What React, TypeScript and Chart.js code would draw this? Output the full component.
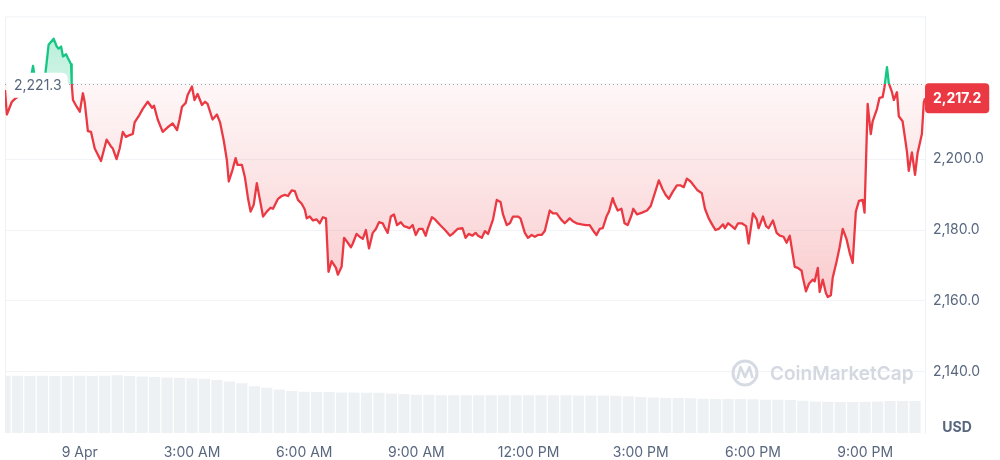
import React, { useEffect, useRef } from 'react';
import { Chart, registerables } from 'chart.js';

Chart.register(...registerables);

// ---- data ----
const xTickMinutes = [0, 180, 360, 540, 720, 900, 1080, 1260];
const xTickLabels = ['9 Apr', '3:00 AM', '6:00 AM', '9:00 AM', '12:00 PM', '3:00 PM', '6:00 PM', '9:00 PM'];
const yTickValues = [2140, 2160, 2180, 2200];
const openPrice = 2221.3;
const lastPrice = 2217.2;
const currencyLabel = 'USD';
const watermarkText = 'CoinMarketCap';

// minutes relative to 00:00 on 9 Apr
const priceMinutes = [
  -120, -117, -109, -104, -96, -87, -80, -75, -71, -63,
  -56, -55, -50, -42, -37, -34, -30, -27, -22, -19,
  -14, -13, -11, -5, 0, 5, 8, 13, 18, 24,
  34, 43, 50, 53, 59, 64, 69, 74, 80, 85,
  88, 96, 101, 109, 116, 119, 125, 133, 141, 149,
  156, 160, 164, 170, 173, 180, 184, 189, 196, 201,
  205, 213, 220, 225, 231, 236, 239, 245, 250, 253,
  260, 265, 270, 274, 279, 284, 289, 294, 300, 306,
  310, 318, 324, 329, 334, 340, 345, 350, 356, 361,
  364, 369, 374, 380, 385, 390, 395, 399, 404, 411,
  414, 420, 424, 430, 435, 438, 444, 449, 454, 459,
  464, 470, 475, 480, 486, 489, 494, 499, 504, 509,
  515, 520, 525, 529, 534, 539, 544, 550, 555, 558,
  565, 570, 578, 586, 594, 598, 606, 614, 619, 624,
  630, 635, 639, 645, 650, 655, 663, 669, 675, 679,
  685, 690, 695, 703, 707, 714, 719, 725, 730, 735,
  741, 746, 754, 759, 765, 772, 778, 786, 791, 797,
  805, 812, 818, 825, 829, 834, 839, 845, 849, 855,
  858, 863, 869, 874, 879, 885, 888, 894, 902, 910,
  916, 922, 929, 935, 940, 945, 951, 958, 964, 969,
  974, 980, 987, 991, 998, 1003, 1009, 1016, 1020, 1025,
  1032, 1035, 1040, 1046, 1051, 1056, 1062, 1069, 1073, 1080,
  1086, 1089, 1096, 1101, 1105, 1112, 1118, 1123, 1129, 1134,
  1139, 1144, 1147, 1152, 1158, 1160, 1165, 1170, 1176, 1179,
  1184, 1187, 1192, 1197, 1200, 1205, 1208, 1214, 1219, 1224,
  1230, 1235, 1240, 1245, 1250, 1256, 1259, 1264, 1269, 1272,
  1279, 1283, 1288, 1291, 1295, 1298, 1303, 1306, 1311, 1314,
  1320, 1323, 1327, 1330, 1335, 1340, 1344, 1351, 1354, 1356,
];

const prices = [
  2219.5, 2212.6, 2216.2, 2217.0, 2218.1, 2219.2, 2221.6, 2226.3, 2221.4, 2220.0,
  2222.7, 2224.4, 2232.3, 2234.0, 2231.8, 2231.2, 2231.8, 2229.0, 2229.6, 2228.5,
  2226.8, 2221.4, 2216.7, 2214.8, 2213.4, 2218.6, 2215.9, 2207.9, 2207.7, 2203.0,
  2199.5, 2205.5, 2203.6, 2203.0, 2200.0, 2203.0, 2207.7, 2206.3, 2206.8, 2207.1,
  2210.4, 2212.6, 2214.2, 2216.2, 2214.5, 2215.1, 2211.2, 2207.7, 2209.0, 2210.1,
  2208.2, 2211.2, 2214.8, 2215.9, 2218.1, 2220.5, 2216.7, 2218.4, 2215.3, 2216.2,
  2215.6, 2211.2, 2212.6, 2210.4, 2205.2, 2199.7, 2193.7, 2197.0, 2200.3, 2198.4,
  2198.4, 2194.8, 2188.8, 2185.2, 2187.1, 2193.2, 2188.5, 2183.8, 2185.2, 2186.3,
  2186.0, 2188.8, 2189.6, 2189.9, 2189.6, 2191.2, 2191.0, 2188.5, 2187.4, 2185.8,
  2183.3, 2183.8, 2182.7, 2183.0, 2181.9, 2183.6, 2183.3, 2168.2, 2171.2, 2169.3,
  2167.4, 2169.6, 2177.8, 2176.4, 2175.1, 2176.2, 2178.9, 2178.1, 2177.5, 2180.0,
  2174.8, 2179.2, 2180.3, 2182.2, 2181.9, 2180.8, 2179.2, 2183.8, 2184.4, 2181.4,
  2182.2, 2181.1, 2180.8, 2180.5, 2181.4, 2178.6, 2180.3, 2180.3, 2178.4, 2180.3,
  2183.6, 2183.0, 2181.4, 2180.0, 2178.4, 2178.9, 2180.3, 2180.5, 2177.8, 2178.9,
  2178.4, 2179.2, 2178.4, 2177.8, 2179.7, 2178.9, 2183.0, 2188.5, 2187.9, 2184.4,
  2181.4, 2181.9, 2183.8, 2183.8, 2183.3, 2179.2, 2177.8, 2178.6, 2178.1, 2178.6,
  2178.6, 2179.7, 2185.5, 2184.7, 2184.7, 2183.0, 2181.9, 2183.3, 2182.5, 2181.9,
  2181.6, 2181.4, 2181.4, 2179.5, 2178.6, 2180.3, 2180.5, 2183.8, 2185.2, 2189.0,
  2187.4, 2185.5, 2186.0, 2181.9, 2181.4, 2184.1, 2186.0, 2184.4, 2184.9, 2185.5,
  2186.8, 2190.1, 2194.0, 2191.5, 2189.9, 2188.8, 2190.7, 2192.6, 2192.6, 2192.1,
  2194.5, 2193.7, 2192.1, 2191.2, 2190.4, 2186.0, 2183.3, 2181.1, 2180.0, 2180.3,
  2181.6, 2180.5, 2181.9, 2181.1, 2180.3, 2181.9, 2181.9, 2181.1, 2176.2, 2184.7,
  2183.0, 2180.5, 2183.8, 2181.1, 2180.5, 2182.7, 2179.2, 2178.4, 2178.1, 2176.4,
  2178.4, 2172.9, 2169.6, 2169.3, 2168.5, 2166.6, 2162.7, 2164.9, 2166.0, 2165.5,
  2169.3, 2162.5, 2166.0, 2162.2, 2161.1, 2161.6, 2166.6, 2171.0, 2175.1, 2180.3,
  2177.5, 2173.7, 2170.7, 2185.2, 2188.2, 2188.5, 2184.9, 2215.6, 2207.1, 2210.7,
  2214.2, 2217.3, 2217.5, 2220.3, 2226.0, 2221.4, 2218.9, 2216.7, 2218.9, 2212.1,
  2210.7, 2207.1, 2202.2, 2196.7, 2201.9, 2195.6, 2201.6, 2207.1, 2215.9, 2217.2,
];

// volume (billions), one bar every 20 minutes starting at -120 min
const volumeStartMinute = -120;
const volumeStepMinutes = 20;
const volumes = [
  16.5, 16.5, 16.4, 16.5, 16.4, 16.4, 16.5, 16.4, 16.5, 16.6,
  16.4, 16.3, 16.1, 16.0, 15.9, 15.8, 15.6, 15.3, 14.8, 14.3,
  13.5, 13.0, 12.5, 12.1, 11.9, 11.8, 11.8, 11.7, 11.7, 11.6,
  11.6, 11.4, 11.2, 11.0, 11.0, 10.9, 10.9, 10.9, 10.9, 10.9,
  10.9, 10.9, 10.9, 10.9, 10.9, 10.9, 10.8, 10.8, 10.8, 10.7,
  10.6, 10.4, 10.2, 10.1, 10.1, 10.0, 9.9, 9.8, 9.8, 9.8,
  9.7, 9.6, 9.6, 9.5, 9.3, 9.1, 9.0, 8.9, 8.9, 9.0,
  9.1, 9.2, 9.2, 9.2,
];

// ---- styles ----
const GREEN = '#16c784';
const RED = '#ea3943';
const TEXT = '#58667e';
const FONT = 'Inter, "Noto Sans", sans-serif';

const fmt = (v: number) =>
  v.toLocaleString('en-US', { minimumFractionDigits: 1, maximumFractionDigits: 1 });

function baseFraction(chart: any) {
  const { chartArea, scales } = chart;
  const y = scales.y.getPixelForValue(openPrice);
  const t = (y - chartArea.top) / (chartArea.bottom - chartArea.top);
  return Math.min(1, Math.max(0, t));
}

function strokeColor(ctx: any) {
  const chart = ctx.chart;
  if (!chart.chartArea || !chart.scales.y) return RED;
  const { top, bottom } = chart.chartArea;
  const t = baseFraction(chart);
  const g = chart.ctx.createLinearGradient(0, top, 0, bottom);
  g.addColorStop(0, GREEN);
  g.addColorStop(t, GREEN);
  g.addColorStop(t, RED);
  g.addColorStop(1, RED);
  return g;
}

function fillColor(ctx: any) {
  const chart = ctx.chart;
  if (!chart.chartArea || !chart.scales.y) return 'rgba(234,57,67,0.1)';
  const { top, bottom } = chart.chartArea;
  const t = baseFraction(chart);
  const y2 = chart.scales.y.getPixelForValue(2160);
  const t2 = Math.min(1, Math.max(t + 0.01, (y2 - top) / (bottom - top)));
  const g = chart.ctx.createLinearGradient(0, top, 0, bottom);
  g.addColorStop(0, 'rgba(22,199,132,0.34)');
  g.addColorStop(t, 'rgba(22,199,132,0.2)');
  g.addColorStop(t, 'rgba(234,57,67,0.04)');
  g.addColorStop(t2, 'rgba(234,57,67,0.26)');
  g.addColorStop(1, 'rgba(234,57,67,0.3)');
  return g;
}

function roundRect(c: CanvasRenderingContext2D, x: number, y: number, w: number, h: number, r: number) {
  c.beginPath();
  c.moveTo(x + r, y);
  c.lineTo(x + w - r, y);
  c.quadraticCurveTo(x + w, y, x + w, y + r);
  c.lineTo(x + w, y + h - r);
  c.quadraticCurveTo(x + w, y + h, x + w - r, y + h);
  c.lineTo(x + r, y + h);
  c.quadraticCurveTo(x, y + h, x, y + h - r);
  c.lineTo(x, y + r);
  c.quadraticCurveTo(x, y, x + r, y);
  c.closePath();
}

const overlayPlugin = {
  id: 'cmcOverlay',
  beforeDatasetsDraw(chart: any) {
    const c: CanvasRenderingContext2D = chart.ctx;
    const { left, right, top, bottom } = chart.chartArea;
    c.save();
    // frame
    c.strokeStyle = '#eff2f5';
    c.lineWidth = 1;
    c.beginPath();
    c.moveTo(left + 0.5, bottom);
    c.lineTo(left + 0.5, top + 0.5);
    c.lineTo(right, top + 0.5);
    c.stroke();

    // watermark
    const wx = 745;
    const wy = 373;
    c.strokeStyle = '#d5dae3';
    c.lineWidth = 3;
    c.beginPath();
    c.arc(wx, wy, 12, 0, Math.PI * 2);
    c.stroke();
    c.lineWidth = 2.6;
    c.lineJoin = 'round';
    c.beginPath();
    c.moveTo(737.5, 379);
    c.lineTo(740.5, 367);
    c.lineTo(745, 377);
    c.lineTo(749.5, 367);
    c.lineTo(752.5, 378);
    c.stroke();
    c.fillStyle = '#d3d8e1';
    c.font = `600 19px ${FONT}`;
    c.textAlign = 'left';
    c.textBaseline = 'middle';
    c.fillText(watermarkText, 770, 374);

    // dotted open-price line
    const by = Math.round(chart.scales.y.getPixelForValue(openPrice)) + 0.5;
    c.strokeStyle = '#9aa3b3';
    c.lineWidth = 1;
    c.setLineDash([1, 3]);
    c.beginPath();
    c.moveTo(left, by);
    c.lineTo(right, by);
    c.stroke();
    c.restore();
  },
  afterDraw(chart: any) {
    const c: CanvasRenderingContext2D = chart.ctx;
    const { left, right, bottom } = chart.chartArea;
    const yScale = chart.scales.y;
    c.save();
    // open price label
    const by = yScale.getPixelForValue(openPrice);
    c.font = `14px ${FONT}`;
    const ow = c.measureText(fmt(openPrice)).width;
    c.fillStyle = '#ffffff';
    roundRect(c, left + 3, by - 11, ow + 12, 25, 6);
    c.fill();
    c.fillStyle = TEXT;
    c.textAlign = 'left';
    c.textBaseline = 'middle';
    c.fillText(fmt(openPrice), left + 9, by + 2);

    // last price badge
    const ly = yScale.getPixelForValue(lastPrice);
    c.font = `bold 14px ${FONT}`;
    const lw = c.measureText(fmt(lastPrice)).width;
    c.fillStyle = RED;
    roundRect(c, right, ly - 15, lw + 16, 30, 4);
    c.fill();
    c.fillStyle = '#ffffff';
    c.textAlign = 'left';
    c.fillText(fmt(lastPrice), right + 8, ly + 0.5);

    // currency label
    c.font = `bold 14px ${FONT}`;
    c.fillStyle = TEXT;
    c.textAlign = 'center';
    c.fillText(currencyLabel, 957, bottom - 5);
    c.restore();
  },
};

export default function App() {
  const canvasRef = useRef<HTMLCanvasElement | null>(null);

  useEffect(() => {
    document.body.style.margin = '0';
    const canvas = canvasRef.current;
    if (!canvas) return;
    const n = Math.min(priceMinutes.length, prices.length);
    const priceData = [];
    for (let i = 0; i < n; i++) priceData.push({ x: priceMinutes[i], y: prices[i] });
    const volumeData = volumes.map((v, i) => ({ x: volumeStartMinute + i * volumeStepMinutes, y: v }));

    const chart = new Chart(canvas, {
      type: 'line',
      data: {
        datasets: [
          {
            type: 'line',
            label: 'Price',
            data: priceData,
            yAxisID: 'y',
            xAxisID: 'x',
            borderWidth: 2.3,
            pointRadius: 0,
            pointHoverRadius: 0,
            tension: 0,
            borderJoinStyle: 'round',
            borderColor: strokeColor,
            backgroundColor: fillColor,
            fill: { target: { value: openPrice } },
            order: 0,
          } as any,
          {
            type: 'bar',
            label: 'Volume',
            data: volumeData,
            yAxisID: 'yVol',
            xAxisID: 'x',
            backgroundColor: '#eef1f4',
            barPercentage: 0.9,
            categoryPercentage: 1,
            order: 1,
          } as any,
        ],
      },
      options: {
        animation: false,
        responsive: false,
        events: [],
        layout: { padding: { left: 5, top: 4, right: 0, bottom: 0 } },
        plugins: {
          legend: { display: false },
          tooltip: { enabled: false },
        },
        scales: {
          x: {
            type: 'linear',
            offset: false,
            min: -120,
            max: 1356,
            afterBuildTicks: (s: any) => {
              s.ticks = xTickMinutes.map((v) => ({ value: v }));
            },
            afterFit: (s: any) => {
              s.height = 27;
            },
            ticks: {
              autoSkip: false,
              maxRotation: 0,
              padding: 11,
              color: TEXT,
              font: { family: FONT, size: 14 },
              callback: (v: any) => {
                const i = xTickMinutes.indexOf(Number(v));
                return i >= 0 ? xTickLabels[i] : '';
              },
            },
            grid: { display: false, drawTicks: false, offset: false },
            border: { display: false },
          },
          y: {
            position: 'right',
            min: 2122.7,
            max: 2240.3,
            afterBuildTicks: (s: any) => {
              s.ticks = yTickValues.map((v) => ({ value: v }));
            },
            afterFit: (s: any) => {
              s.width = 75;
            },
            ticks: {
              padding: 8,
              color: TEXT,
              font: { family: FONT, size: 14 },
              callback: (v: any) => fmt(Number(v)),
            },
            grid: { color: '#f1f3f6', drawTicks: false },
            border: { display: true, color: '#eff2f5' },
          },
          yVol: {
            display: false,
            min: 0,
            max: 120,
          },
        },
      } as any,
      plugins: [overlayPlugin],
    });
    return () => chart.destroy();
  }, []);

  return (
    <div style={{ width: 1000, height: 460, background: '#ffffff' }}>
      <canvas ref={canvasRef} width={1000} height={460} />
    </div>
  );
}
